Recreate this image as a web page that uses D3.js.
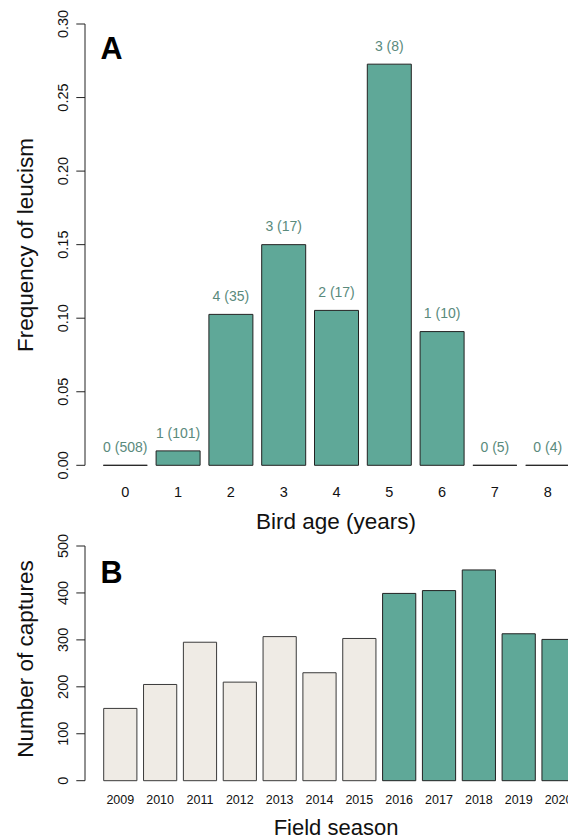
<!DOCTYPE html>
<html>
<head>
<meta charset="utf-8">
<script src="https://cdn.jsdelivr.net/npm/d3@7"></script>
<style>
  body { margin: 0; background: #fff; }
  svg { display: block; font-family: "Liberation Sans", Arial, Helvetica, sans-serif; }
</style>
</head>
<body>
<div id="chart"></div>
<script>
// Panel A: leucism by age
const ages = ['0', '1', '2', '3', '4', '5', '6', '7', '8'];
const leucFreq = [0, 0.0098, 0.1026, 0.15, 0.1053, 0.2727, 0.0909, 0, 0];
const leucCount = [0, 1, 4, 3, 2, 3, 1, 0, 0];
const otherCount = [508, 101, 35, 17, 17, 8, 10, 5, 4];
const freqTicks = [0, 0.05, 0.10, 0.15, 0.20, 0.25, 0.30];

// Panel B: captures per field season
const seasons = ['2009', '2010', '2011', '2012', '2013', '2014', '2015',
  '2016', '2017', '2018', '2019', '2020'];
const captures = [154, 205, 295, 210, 307, 230, 303, 399, 405, 449, 313, 301];
const captureTicks = [0, 100, 200, 300, 400, 500];
const firstTealSeason = '2016';

const teal = '#5fa898';
const beige = '#efebe5';
const labelColor = '#5a8a7c';

const W = 568, H = 839;
const svg = d3.select('#chart').append('svg')
  .attr('width', W)
  .attr('height', H);

// Bars as paths so zero-height bars still show their outline
function barPath(x, y0, w, y1) {
  return 'M' + x + ',' + y0 + 'H' + (x + w) + 'V' + y1 + 'H' + x + 'Z';
}

function leftAxis(g, y, ticks, fmt) {
  g.append('line')
    .attr('x1', 85).attr('x2', 85)
    .attr('y1', y(ticks[0])).attr('y2', y(ticks[ticks.length - 1]))
    .attr('stroke', '#222');
  const t = g.selectAll('.tick').data(ticks).enter().append('g')
    .attr('class', 'tick');
  t.append('line')
    .attr('x1', 85).attr('x2', 76.3)
    .attr('y1', d => y(d)).attr('y2', d => y(d))
    .attr('stroke', '#222');
  t.append('text')
    .attr('transform', d => 'translate(67.6,' + y(d) + ') rotate(-90)')
    .attr('text-anchor', 'middle')
    .attr('font-size', 14.5)
    .attr('fill', '#111')
    .text(fmt);
}

// ---- Panel A ----
const xA = d3.scaleBand()
  .domain(ages)
  .range([103.3, 103.3 + 10.6 * 44])
  .paddingInner(1 / 6)
  .paddingOuter(0);

const yA = d3.scaleLinear()
  .domain([0, 0.30])
  .range([465.3, 24]);

const gA = svg.append('g');

gA.selectAll('path.bar')
  .data(ages)
  .enter()
  .append('path')
  .attr('class', 'bar')
  .attr('d', (d, i) => barPath(xA(d), yA(0), xA.bandwidth(), yA(leucFreq[i])))
  .attr('fill', teal)
  .attr('stroke', '#222')
  .attr('stroke-width', 1);

gA.selectAll('text.count')
  .data(ages)
  .enter()
  .append('text')
  .attr('class', 'count')
  .attr('x', d => xA(d) + xA.bandwidth() / 2)
  .attr('y', (d, i) => yA(leucFreq[i]) - 13.3)
  .attr('text-anchor', 'middle')
  .attr('font-size', 14)
  .attr('fill', labelColor)
  .text((d, i) => leucCount[i] + ' (' + otherCount[i] + ')');

gA.selectAll('text.age')
  .data(ages)
  .enter()
  .append('text')
  .attr('class', 'age')
  .attr('x', d => xA(d) + xA.bandwidth() / 2)
  .attr('y', 497)
  .attr('text-anchor', 'middle')
  .attr('font-size', 14.5)
  .attr('fill', '#111')
  .text(d => d);

leftAxis(gA, yA, freqTicks, d => d3.format('.2f')(d));

gA.append('text')
  .attr('x', 336)
  .attr('y', 529)
  .attr('text-anchor', 'middle')
  .attr('font-size', 22.5)
  .attr('fill', '#111')
  .text('Bird age (years)');

gA.append('text')
  .attr('transform', 'translate(32.5,245) rotate(-90)')
  .attr('text-anchor', 'middle')
  .attr('font-size', 22.5)
  .attr('fill', '#111')
  .text('Frequency of leucism');

gA.append('text')
  .attr('x', 100.5)
  .attr('y', 59.3)
  .attr('font-size', 30.5)
  .attr('font-weight', 'bold')
  .attr('fill', '#000')
  .text('A');

// ---- Panel B ----
const xB = d3.scaleBand()
  .domain(seasons)
  .range([103.7, 103.7 + 14.2 * 33.2])
  .paddingInner(1 / 6)
  .paddingOuter(0);

const yB = d3.scaleLinear()
  .domain([0, 500])
  .range([780.7, 546]);

const gB = svg.append('g');

gB.selectAll('path.bar')
  .data(seasons)
  .enter()
  .append('path')
  .attr('class', 'bar')
  .attr('d', (d, i) => barPath(xB(d), yB(0), xB.bandwidth(), yB(captures[i])))
  .attr('fill', d => (+d >= +firstTealSeason ? teal : beige))
  .attr('stroke', d => (+d >= +firstTealSeason ? '#222' : '#3a3a3a'))
  .attr('stroke-width', 1);

gB.selectAll('text.season')
  .data(seasons)
  .enter()
  .append('text')
  .attr('class', 'season')
  .attr('x', d => xB(d) + xB.bandwidth() / 2)
  .attr('y', 803.8)
  .attr('text-anchor', 'middle')
  .attr('font-size', 12.5)
  .attr('fill', '#111')
  .text(d => d);

leftAxis(gB, yB, captureTicks, d => d);

gB.append('text')
  .attr('x', 336)
  .attr('y', 835)
  .attr('text-anchor', 'middle')
  .attr('font-size', 22)
  .attr('fill', '#111')
  .text('Field season');

gB.append('text')
  .attr('transform', 'translate(32.5,659) rotate(-90)')
  .attr('text-anchor', 'middle')
  .attr('font-size', 22.5)
  .attr('fill', '#111')
  .text('Number of captures');

gB.append('text')
  .attr('x', 100.5)
  .attr('y', 583.3)
  .attr('font-size', 30.5)
  .attr('font-weight', 'bold')
  .attr('fill', '#000')
  .text('B');
</script>
</body>
</html>
